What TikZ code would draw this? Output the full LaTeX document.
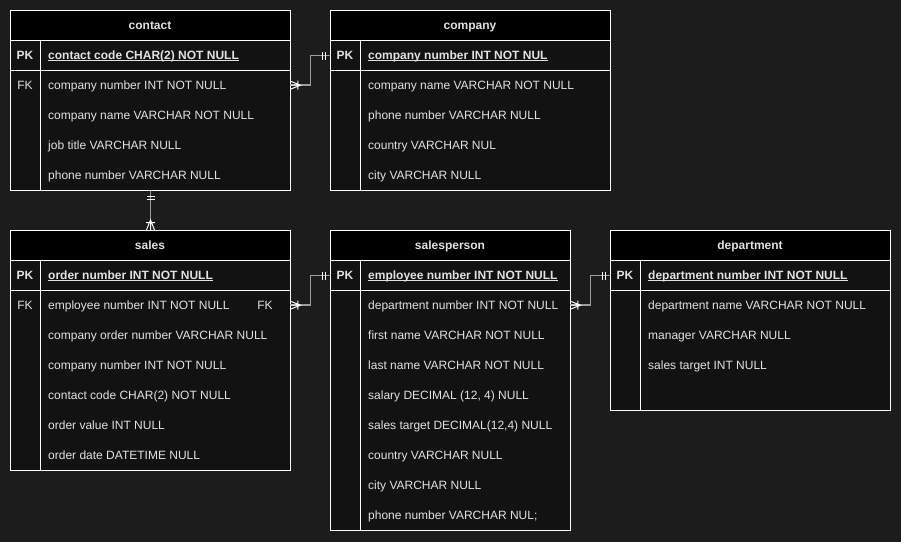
\documentclass[tikz,border=0pt]{standalone}
\usepackage{fontspec}
\setmainfont{Liberation Sans}
\definecolor{bg}{HTML}{1C1C1C}
\definecolor{bodyfill}{HTML}{121212}
\definecolor{txt}{HTML}{E2E2E2}
\definecolor{conn}{HTML}{9C9C9C}
\tikzset{
  tblbox/.style={draw=white, fill=bodyfill, line width=1pt, anchor=north west, inner sep=0pt},
  hdrbox/.style={draw=white, fill=black, line width=1pt, anchor=north west, inner sep=0pt, minimum height=30pt},
  pkbox/.style={draw=white, line width=1pt, anchor=north west, inner sep=0pt, minimum height=30pt},
  rowbox/.style={anchor=north west, inner sep=0pt, minimum height=30pt},
  tline/.style={draw=white, line width=1pt},
  uline/.style={draw=txt, line width=1pt},
  hdrtxt/.style={anchor=base, inner sep=0pt, text=txt, font=\fontsize{12}{14}\selectfont\bfseries},
  keytxt/.style={anchor=base, inner sep=0pt, text=txt},
  fieldtxt/.style={anchor=base west, inner sep=0pt, text=txt},
  pktxt/.style={font=\fontsize{12}{14}\selectfont\bfseries},
  connline/.style={draw=conn, line width=1.6pt},
  mk/.style={draw=white, line width=1pt},
  mandone/.pic={\draw[mk] (5,-4)--(5,4) (8,-4)--(8,4);},
  onemany/.pic={\draw[mk] (0,-4)--(10,0)--(0,4) (0,0)--(10,0) (7.5,-4.5)--(7.5,4.5);}
}
\newcommand\tablehead[5]{%
  \node[hdrbox, minimum width=#4pt] (#1-h) at (#2,#3) {};
  \node[hdrtxt] at (#2+#4/2,#3+19.3) {#5};}
\newcommand\pkrow[5]{%
  \node[pkbox, minimum width=#4pt] (#1-pk) at (#2,#3) {};
  \node[keytxt, pktxt] at (#2+15,#3+19.3) {PK};
  \node[fieldtxt, pktxt] (#1-pkt) at (#2+38,#3+19.3) {#5};
  \draw[uline] ([yshift=-1.3pt]#1-pkt.base west) -- ([yshift=-1.3pt]#1-pkt.base east);}
\newcommand\fieldrow[6]{%
  \node[rowbox, minimum width=#4pt] (#1) at (#2,#3) {};
  \node[keytxt] at (#2+15,#3+19.3) {#5};
  \node[fieldtxt] (#1-t) at (#2+38,#3+19.3) {#6};}
\begin{document}
\begin{tikzpicture}[x=1pt,y=-1pt,font=\fontsize{12}{14}\selectfont]
\fill[bg] (0,0) rectangle (901,542);
\useasboundingbox (0,0) rectangle (901,542);

% contact
\node[tblbox, minimum width=280pt, minimum height=180pt] (contact) at (10,10) {};
\tablehead{contact}{10}{10}{280}{contact}
\pkrow{contact}{10}{40}{280}{contact code CHAR(2) NOT NULL}
\fieldrow{contact-fk}{10}{70}{280}{FK}{company number INT NOT NULL}
\fieldrow{contact-r2}{10}{100}{280}{}{company name VARCHAR NOT NULL}
\fieldrow{contact-r3}{10}{130}{280}{}{job title VARCHAR NULL}
\fieldrow{contact-r4}{10}{160}{280}{}{phone number VARCHAR NULL}
\draw[tline] ([xshift=30pt]contact-pk.north west) -- ([xshift=30pt]contact.south west);

% company
\node[tblbox, minimum width=280pt, minimum height=180pt] (company) at (330,10) {};
\tablehead{company}{330}{10}{280}{company}
\pkrow{company}{330}{40}{280}{company number INT NOT NUL}
\fieldrow{company-r1}{330}{70}{280}{}{company name VARCHAR NOT NULL}
\fieldrow{company-r2}{330}{100}{280}{}{phone number VARCHAR NULL}
\fieldrow{company-r3}{330}{130}{280}{}{country VARCHAR NUL}
\fieldrow{company-r4}{330}{160}{280}{}{city VARCHAR NULL}
\draw[tline] ([xshift=30pt]company-pk.north west) -- ([xshift=30pt]company.south west);

% sales
\node[tblbox, minimum width=280pt, minimum height=240pt] (sales) at (10,230) {};
\tablehead{sales}{10}{230}{280}{sales}
\pkrow{sales}{10}{260}{280}{order number INT NOT NULL}
\fieldrow{sales-fk}{10}{290}{280}{FK}{employee number INT NOT NULL}
\node[keytxt] (sales-fk2) at (265,309.3) {FK};
\fieldrow{sales-r2}{10}{320}{280}{}{company order number VARCHAR NULL}
\fieldrow{sales-r3}{10}{350}{280}{}{company number INT NOT NULL}
\fieldrow{sales-r4}{10}{380}{280}{}{contact code CHAR(2) NOT NULL}
\fieldrow{sales-r5}{10}{410}{280}{}{order value INT NULL}
\fieldrow{sales-r6}{10}{440}{280}{}{order date DATETIME NULL}
\draw[tline] ([xshift=30pt]sales-pk.north west) -- ([xshift=30pt]sales.south west);

% salesperson
\node[tblbox, minimum width=240pt, minimum height=300pt] (salesperson) at (330,230) {};
\tablehead{salesperson}{330}{230}{240}{salesperson}
\pkrow{salesperson}{330}{260}{240}{employee number INT NOT NULL}
\fieldrow{salesperson-r1}{330}{290}{240}{}{department number INT NOT NULL}
\fieldrow{salesperson-r2}{330}{320}{240}{}{first name VARCHAR NOT NULL}
\fieldrow{salesperson-r3}{330}{350}{240}{}{last name VARCHAR NOT NULL}
\fieldrow{salesperson-r4}{330}{380}{240}{}{salary DECIMAL (12, 4) NULL}
\fieldrow{salesperson-r5}{330}{410}{240}{}{sales target DECIMAL(12,4) NULL}
\fieldrow{salesperson-r6}{330}{440}{240}{}{country VARCHAR NULL}
\fieldrow{salesperson-r7}{330}{470}{240}{}{city VARCHAR NULL}
\fieldrow{salesperson-r8}{330}{500}{240}{}{phone number VARCHAR NUL;}
\draw[tline] ([xshift=30pt]salesperson-pk.north west) -- ([xshift=30pt]salesperson.south west);

% department
\node[tblbox, minimum width=280pt, minimum height=180pt] (department) at (610,230) {};
\tablehead{department}{610}{230}{280}{department}
\pkrow{department}{610}{260}{280}{department number INT NOT NULL}
\fieldrow{department-r1}{610}{290}{280}{}{department name VARCHAR NOT NULL}
\fieldrow{department-r2}{610}{320}{280}{}{manager VARCHAR NULL}
\fieldrow{department-r3}{610}{350}{280}{}{sales target INT NULL}
\draw[tline] ([xshift=30pt]department-pk.north west) -- ([xshift=30pt]department.south west);

% connectors
\draw[connline] (contact-fk.east) -- ++(20,0) |- (company-pk.west);
\draw[connline] (contact.south) -- (sales.north);
\draw[connline] (sales-fk.east) -- ++(20,0) |- (salesperson-pk.west);
\draw[connline] (salesperson-r1.east) -- ++(20,0) |- (department-pk.west);

% markers
\pic at (contact-fk.east) {onemany};
\pic[rotate=180] at (company-pk.west) {mandone};
\pic[rotate=-90] at (contact.south) {mandone};
\pic[rotate=90] at (sales.north) {onemany};
\pic at (sales-fk.east) {onemany};
\pic[rotate=180] at (salesperson-pk.west) {mandone};
\pic at (salesperson-r1.east) {onemany};
\pic[rotate=180] at (department-pk.west) {mandone};
\end{tikzpicture}
\end{document}
